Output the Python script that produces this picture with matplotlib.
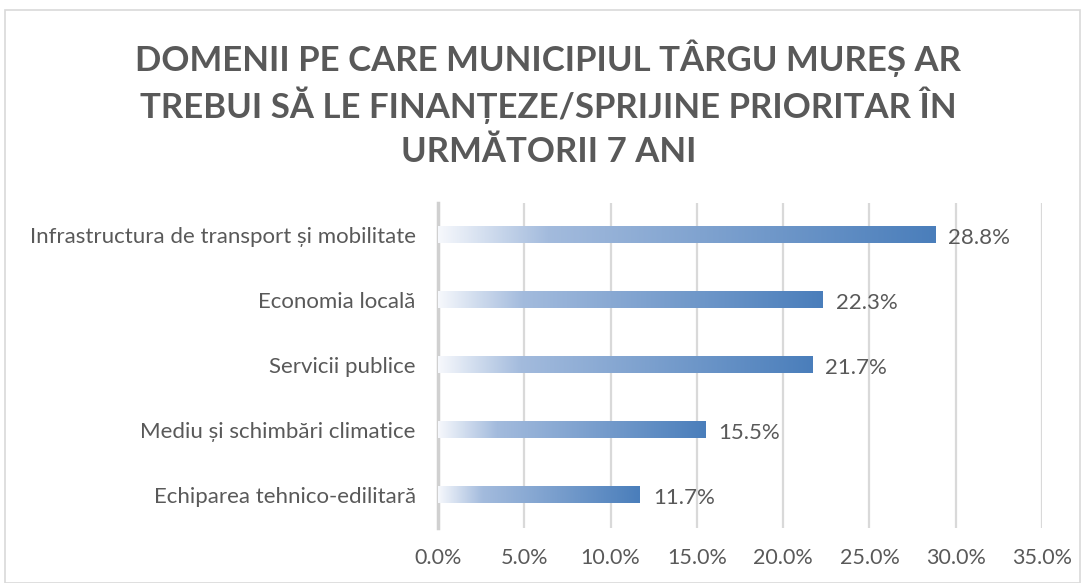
import numpy as np
import matplotlib.pyplot as plt
from matplotlib.colors import LinearSegmentedColormap
from matplotlib.patches import Rectangle

categories = [
    "Infrastructura de transport și mobilitate",
    "Economia locală",
    "Servicii publice",
    "Mediu și schimbări climatice",
    "Echiparea tehnico-edilitară",
]
values = [28.8, 22.3, 21.7, 15.5, 11.7]
xticks = [0, 5, 10, 15, 20, 25, 30, 35]
title_lines = ["DOMENII PE CARE MUNICIPIUL TÂRGU MUREȘ AR",
               "TREBUI SĂ LE FINANȚEZE/SPRIJINE PRIORITAR ÎN",
               "URMĂTORII 7 ANI"]

plt.rcParams['font.family'] = ['Lato', 'DejaVu Sans']
text_col = "#595959"

fig = plt.figure(figsize=(10.85, 5.83), dpi=100)
ax = fig.add_axes([0.4037, 0.095, 0.5567, 0.557])

# light border around the chart area
fig.patches.append(Rectangle((0.005, 0.0), 0.99, 0.982, transform=fig.transFigure,
                             fill=False, edgecolor="#d9d9d9", linewidth=1.2))

cmap = LinearSegmentedColormap.from_list(
    "grad", [(0.0, "#f6f8fc"), (0.22, "#a3bbdd"), (1.0, "#4a7ebb")])
grad = np.linspace(0, 1, 256).reshape(1, -1)

n = len(categories)
ypos = np.arange(n)[::-1]
h = 0.25
for y, v in zip(ypos, values):
    ax.imshow(grad, cmap=cmap, aspect="auto", extent=[0, v, y - h / 2, y + h / 2],
              zorder=3, interpolation="bilinear")
    ax.text(v + 0.75, y - 0.04, f"{v:.1f}%", va="center", ha="left", fontsize=16,
            color=text_col, zorder=4)

ax.set_xlim(0, 35)
ax.set_ylim(-0.5, n - 0.5)
ax.set_xticks(xticks)
ax.set_xticklabels([f"{t:.1f}%" for t in xticks])
ax.set_yticks(ypos)
ax.set_yticklabels(categories)
ax.tick_params(axis="both", length=0, colors=text_col)
ax.tick_params(axis="x", pad=15, labelsize=15.5)
ax.tick_params(axis="y", pad=16, labelsize=16)
ax.grid(axis="x", color="#d9d9d9", linewidth=1.6, zorder=0)
for s in ["top", "right", "bottom"]:
    ax.spines[s].set_visible(False)
ax.spines["left"].set_color("#d0d0d0")
ax.spines["left"].set_linewidth(2.5)

for i, line in enumerate(title_lines):
    fig.text(0.5055, 1 - (58 + 47 * i) / 583, line, ha="center", va="center",
             fontsize=25, fontweight="bold", color=text_col)

fig.savefig("out.png", dpi=100)
